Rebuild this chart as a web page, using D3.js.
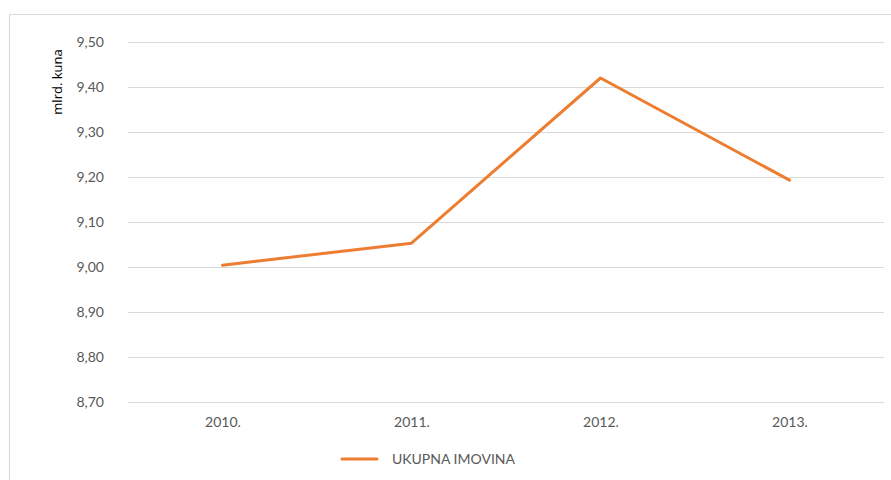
<!DOCTYPE html>
<html>
<head>
<meta charset="utf-8">
<script src="https://cdn.jsdelivr.net/npm/d3@7"></script>
<style>
  body { margin: 0; background: #fff; }
  text { font-family: Lato, "Open Sans", sans-serif; fill: #595959; }
</style>
</head>
<body>
<div id="content"></div>
<script>
const years = ["2010.", "2011.", "2012.", "2013."];
const imovina = [9.004, 9.053, 9.42, 9.193];
const yTicks = [8.7, 8.8, 8.9, 9.0, 9.1, 9.2, 9.3, 9.4, 9.5];
const seriesName = "UKUPNA IMOVINA";
const yTitle = "mlrd. kuna";

const w = 891, h = 480;
const plotLeft = 128, plotRight = 884, plotTop = 42, plotBottom = 402;

const svg = d3.select("#content").append("svg").attr("width", w).attr("height", h);

// chart frame
svg.append("rect").attr("x", 9.5).attr("y", 14.5).attr("width", 900).attr("height", 500)
  .attr("fill", "none").attr("stroke", "#d9d9d9");

let xScale = d3.scalePoint().domain(years).range([plotLeft, plotRight]).padding(0.5);
let yScale = d3.scaleLinear().domain([8.7, 9.5]).range([plotBottom, plotTop]);

let fmt = d => d.toFixed(2).replace(".", ",");

// gridlines
svg.append("g").selectAll("line").data(yTicks).enter().append("line")
  .attr("x1", plotLeft).attr("x2", plotRight)
  .attr("y1", d => Math.round(yScale(d)) + 0.5).attr("y2", d => Math.round(yScale(d)) + 0.5)
  .attr("stroke", "#d9d9d9").attr("stroke-width", 1);

let yAxis = d3.axisLeft(yScale).tickValues(yTicks).tickFormat(fmt).tickSize(0).tickPadding(0);
svg.append("g").attr("transform", "translate(104,0)").call(yAxis)
  .call(g => g.select(".domain").remove())
  .selectAll("text").attr("font-size", 14).attr("fill", "#595959");

let xAxis = d3.axisBottom(xScale).tickSize(0).tickPadding(0);
svg.append("g").attr("transform", "translate(0,417)").call(xAxis)
  .call(g => g.select(".domain").remove())
  .selectAll("text").attr("font-size", 14).attr("fill", "#595959");

svg.selectAll("g text").attr("font-family", "Lato, 'Open Sans', sans-serif");

// axis title
svg.append("text").attr("transform", "translate(62,82) rotate(-90)")
  .attr("text-anchor", "middle").attr("font-size", 13)
  .style("font-family", "'Open Sans', sans-serif").style("fill", "#000")
  .text(yTitle);

// series line
let line = d3.line().x((d, i) => xScale(years[i])).y(d => yScale(d));
svg.append("path").datum(imovina).attr("d", line)
  .attr("fill", "none").attr("stroke", "#ED7D31").attr("stroke-width", 3)
  .attr("stroke-linejoin", "round").attr("stroke-linecap", "round");

// legend
let legend = svg.append("g").attr("id", "legend");
legend.append("line").attr("x1", 342).attr("x2", 377).attr("y1", 459).attr("y2", 459)
  .attr("stroke", "#ED7D31").attr("stroke-width", 3).attr("stroke-linecap", "round");
legend.append("text").attr("x", 392).attr("y", 464).attr("font-size", 14).text(seriesName);
</script>
</body>
</html>
